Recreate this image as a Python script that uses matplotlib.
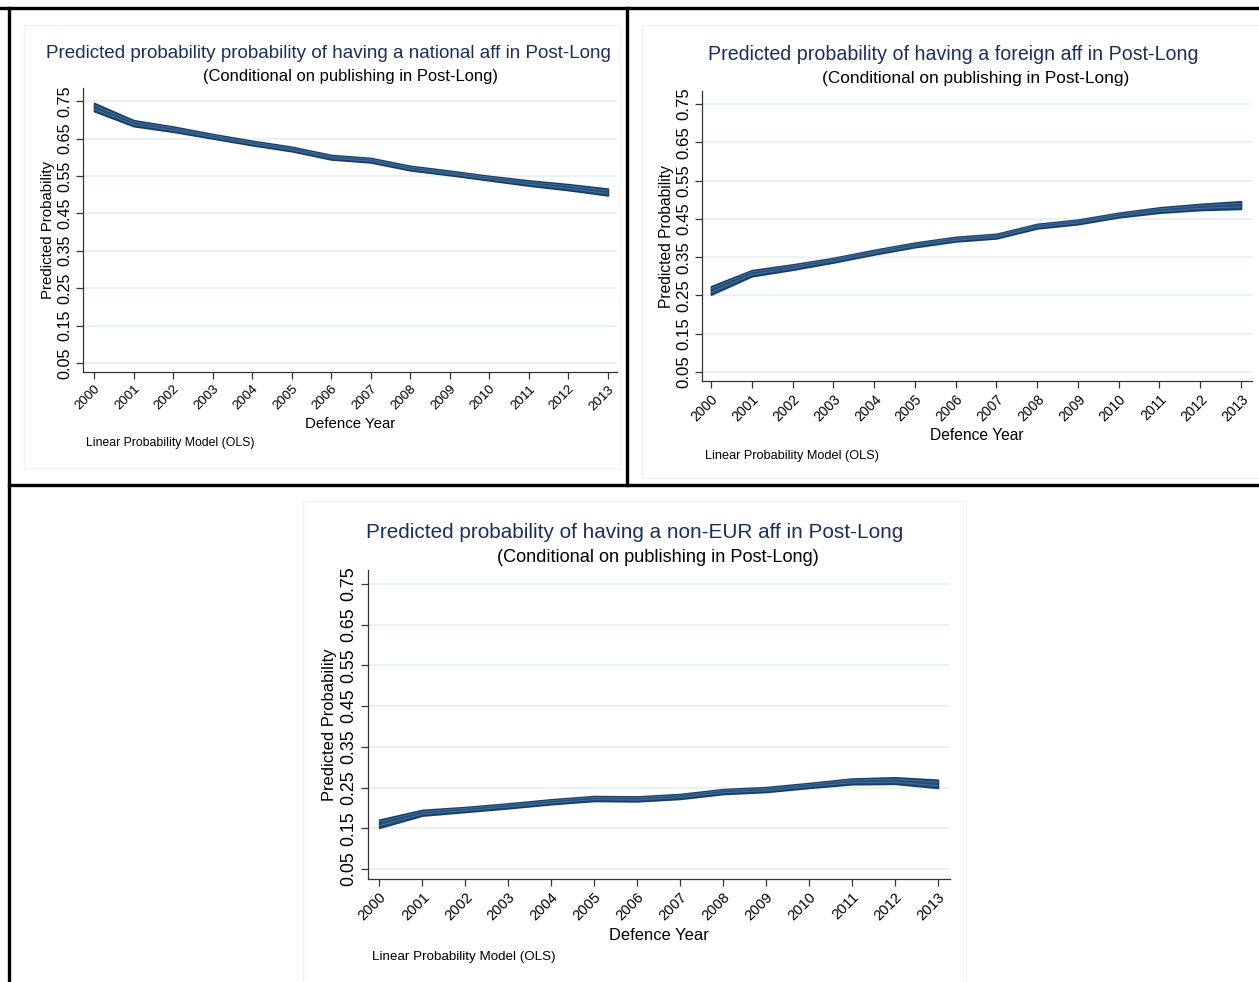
import numpy as np
import matplotlib.pyplot as plt

plt.rcParams["font.family"] = ["Liberation Sans", "DejaVu Sans"]

W, H = 1259, 982

years = list(range(2000, 2014))
y_ticks = [0.05, 0.15, 0.25, 0.35, 0.45, 0.55, 0.65, 0.75]
y_tick_labels = ["0.05", "0.15", "0.25", "0.35", "0.45", "0.55", "0.65", "0.75"]

# predicted probabilities, with half width of the CI band
national = [0.734, 0.691, 0.675, 0.656, 0.638, 0.622, 0.600, 0.592, 0.571, 0.558, 0.544, 0.531, 0.520, 0.507]
national_ci = [0.011, 0.008, 0.007, 0.006, 0.006, 0.006, 0.006, 0.006, 0.006, 0.006, 0.006, 0.007, 0.008, 0.009]

foreign = [0.263, 0.308, 0.324, 0.342, 0.363, 0.382, 0.397, 0.405, 0.431, 0.442, 0.460, 0.473, 0.481, 0.486]
foreign_ci = [0.011, 0.008, 0.007, 0.006, 0.006, 0.006, 0.006, 0.006, 0.006, 0.006, 0.006, 0.007, 0.008, 0.010]

noneur = [0.161, 0.188, 0.196, 0.205, 0.215, 0.223, 0.222, 0.228, 0.240, 0.245, 0.255, 0.265, 0.267, 0.259]
noneur_ci = [0.010, 0.007, 0.006, 0.006, 0.006, 0.006, 0.006, 0.006, 0.006, 0.006, 0.006, 0.007, 0.008, 0.010]

titles = [
    "Predicted probability probability of having a national aff in Post-Long",
    "Predicted probability of having a foreign aff in Post-Long",
    "Predicted probability of having a non-EUR aff in Post-Long",
]
subtitle = "(Conditional on publishing in Post-Long)"
xlabel = "Defence Year"
ylabel = "Predicted Probability"
note = "Linear Probability Model (OLS)"

NAVY = "#224f7b"
TITLE_C = "#1c2f5c"
GRID_C = "#e8f0f1"


def fx(px):
    return px / W


def fy(py):
    return 1 - py / H


def panel(fig, box, region, xlim, ylim, values, ci, title, text_pos, scale):
    # box: axes (left, top, right, bottom) in pixels
    l, t, r, b = box
    ax = fig.add_axes([fx(l), fy(b), fx(r) - fx(l), fy(t) - fy(b)])
    vals = np.array(values)
    half = np.array(ci)
    ax.fill_between(years, vals - half, vals + half, facecolor=NAVY,
                    edgecolor="#1a3d63", linewidth=1.2, zorder=3)
    ax.plot(years, vals - half * 0.45, color="#4573a0", lw=0.6, zorder=4)
    ax.plot(years, vals + half * 0.45, color="#4573a0", lw=0.6, zorder=4)
    ax.set_xlim(*xlim)
    ax.set_ylim(*ylim)
    ax.set_yticks(y_ticks)
    ax.set_yticklabels(y_tick_labels, rotation=90, va="center",
                       fontsize=11.6 * scale)
    ax.set_xticks(years)
    ax.set_xticklabels([str(y) for y in years], rotation=45, ha="right",
                       rotation_mode="anchor", fontsize=9.6 * scale)
    ax.tick_params(direction="out", length=5, width=0.9, color="#333333", pad=3)
    ax.grid(axis="y", color=GRID_C, lw=1.3)
    ax.set_axisbelow(True)
    for s in ["top", "right"]:
        ax.spines[s].set_visible(False)
    for s in ["left", "bottom"]:
        ax.spines[s].set_color("#333333")
        ax.spines[s].set_linewidth(0.9)

    # faint graph-region outline
    rl, rt, rr, rb = region
    fig.add_artist(plt.Rectangle((fx(rl), fy(rb)), fx(rr) - fx(rl), fy(rt) - fy(rb),
                                 fill=False, ec="#f2f2f2", lw=1, transform=fig.transFigure))

    tx, ty, sx, sy, ylx, yly, xlx, xly, nx, ny = text_pos
    fig.text(fx(tx), fy(ty), title, ha="center", va="center", color=TITLE_C,
             fontsize=13.6 * scale)
    fig.text(fx(sx), fy(sy), subtitle, ha="center", va="center", color="black",
             fontsize=11.9 * scale)
    fig.text(fx(ylx), fy(yly), ylabel, ha="center", va="center", rotation=90,
             fontsize=10.8 * scale)
    fig.text(fx(xlx), fy(xly), xlabel, ha="center", va="center",
             fontsize=10.8 * scale)
    fig.text(fx(nx), fy(ny), note, ha="left", va="center", fontsize=8.8 * scale)
    return ax


fig = plt.figure(figsize=(W / 100, H / 100), dpi=100)

panel(fig, (83, 88, 617, 372), (24, 25, 620, 468),
      (1999.72, 2013.23), (0.026, 0.785), national, national_ci, titles[0],
      (328, 54, 350, 77, 48, 230, 350, 424, 86, 443), 1.0)

panel(fig, (702, 91, 1252, 381), (642, 25, 1262, 478),
      (1999.78, 2013.27), (0.0265, 0.784), foreign, foreign_ci, titles[1],
      (953, 55, 976, 78, 666, 236, 977, 436, 705, 456), 1.04)

panel(fig, (368, 570, 950, 879), (303, 501, 966, 985),
      (1999.74, 2013.28), (0.0254, 0.784), noneur, noneur_ci, titles[2],
      (635, 533, 658, 557, 330, 725, 659, 936, 372, 957), 1.1)

# table borders around the three graphs
lines = [
    ((0, W), (8, 8)),
    ((9, 9), (8, H)),
    ((627, 627), (8, 485)),
    ((9, W), (485, 485)),
]
for xs, ys in lines:
    fig.add_artist(plt.Line2D([fx(xs[0]), fx(xs[1])], [fy(ys[0]), fy(ys[1])],
                              color="black", lw=2.4, transform=fig.transFigure))

fig.savefig("out.png", dpi=100)
